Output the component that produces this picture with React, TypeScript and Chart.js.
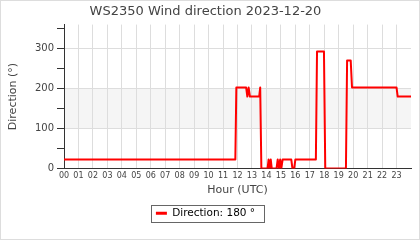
import React, { useEffect, useRef } from "react";
import { Chart, registerables } from "chart.js";

Chart.register(...registerables);

// Time of each reading, in hours (UTC) on 2023-12-20
const hours: number[] = [
  0, 11.85, 11.92, 12.6, 12.68, 12.77, 12.86, 13.5, 13.57, 13.65,
  14.08, 14.15, 14.22, 14.3, 14.37, 14.7, 14.78, 14.87, 14.95, 15.03,
  15.12, 15.72, 15.8, 15.92, 16.0, 17.42, 17.5, 17.98, 18.07, 19.5,
  19.58, 19.83, 19.92, 23.0, 23.08, 24,
];
// Wind direction, degrees
const direction: number[] = [
  22.5, 22.5, 202.5, 202.5, 180, 202.5, 180, 180, 202.5, 0,
  0, 22.5, 0, 22.5, 0, 0, 22.5, 0, 22.5, 0,
  22.5, 22.5, 0, 0, 22.5, 22.5, 292.5, 292.5, 0, 0,
  270, 270, 202.5, 202.5, 180, 180,
];
const hourTicks: number[] = [
  0, 1, 2, 3, 4, 5, 6, 7, 8, 9, 10, 11, 12, 13, 14, 15, 16, 17, 18, 19, 20, 21, 22, 23,
];
const dirTicks: number[] = [0, 50, 100, 150, 200, 250, 300, 350];
const bandRange: number[] = [100, 200];
const titleText = "WS2350 Wind direction 2023-12-20";
const seriesLabel = "Direction: 180 °";

const FONT = "DejaVu Sans";

const framePlugin = {
  id: "frame",
  beforeDraw(chart: any) {
    const { ctx, chartArea, scales } = chart;
    ctx.save();
    ctx.fillStyle = "#ffffff";
    ctx.fillRect(0, 0, chart.width, chart.height);
    const yTop = scales.y.getPixelForValue(bandRange[1]);
    const yBot = scales.y.getPixelForValue(bandRange[0]);
    ctx.fillStyle = "#f5f5f5";
    ctx.fillRect(chartArea.left, yTop, chartArea.right - chartArea.left, yBot - yTop);
    ctx.restore();
  },
  afterDraw(chart: any) {
    const { ctx } = chart;
    ctx.save();
    ctx.strokeStyle = "#dddddd";
    ctx.lineWidth = 1;
    ctx.strokeRect(0.5, 0.5, chart.width - 1, chart.height - 1);
    const boxes = chart.legend && chart.legend.legendHitBoxes;
    if (boxes && boxes.length) {
      const b = boxes[0];
      ctx.strokeStyle = "#666666";
      const l = Math.round(b.left - 5) + 0.5;
      const t = Math.round(b.top - 3.5) + 0.5;
      const r = Math.round(b.left + b.width + 9) + 0.5;
      const bt = Math.round(b.top + b.height + 3.5) + 0.5;
      ctx.strokeRect(l, t, r - l, bt - t);
    }
    ctx.restore();
  },
};

export default function App() {
  const canvasRef = useRef<HTMLCanvasElement | null>(null);

  useEffect(() => {
    const canvas = canvasRef.current;
    if (!canvas) return;
    const chart = new Chart(canvas, {
      type: "line",
      data: {
        datasets: [
          {
            label: seriesLabel,
            data: hours.map((h, i) => ({ x: h, y: direction[i] })),
            borderColor: "#ff0000",
            backgroundColor: "#ff0000",
            borderWidth: 2,
            borderJoinStyle: "round",
            pointRadius: 0,
            tension: 0,
            fill: false,
          },
        ],
      },
      options: {
        responsive: false,
        animation: false,
        events: [],
        layout: { padding: { left: 0, right: 9, top: 0, bottom: 11.5 } },
        plugins: {
          title: {
            display: true,
            text: titleText,
            color: "#444444",
            font: { family: FONT, size: 13, weight: "normal" },
            padding: { top: 4, bottom: 5 },
          },
          legend: {
            display: true,
            position: "bottom",
            labels: {
              color: "#000000",
              font: { family: FONT, size: 10.5 },
              boxWidth: 11,
              boxHeight: 3,
              padding: 10,
              generateLabels: (c: any) =>
                c.data.datasets.map((ds: any, i: number) => ({
                  text: ds.label,
                  fillStyle: ds.borderColor,
                  strokeStyle: ds.borderColor,
                  lineWidth: 0,
                  hidden: false,
                  datasetIndex: i,
                  fontColor: "#000000",
                })),
            },
          },
          tooltip: { enabled: false },
        },
        scales: {
          x: {
            type: "linear",
            min: 0,
            max: 24,
            afterBuildTicks: (axis: any) => {
              axis.ticks = hourTicks.map((v) => ({ value: v }));
            },
            afterFit: (scale: any) => {
              scale.height = 29.5;
            },
            ticks: {
              autoSkip: false,
              maxRotation: 0,
              minRotation: 0,
              padding: 3,
              color: "#444444",
              font: { family: FONT, size: 8 },
              callback: (v: any) => String(v).padStart(2, "0"),
            },
            grid: {
              color: "#dddddd",
              drawTicks: false,
            },
            border: { color: "#333333", width: 1 },
            title: {
              display: true,
              text: "Hour (UTC)",
              color: "#444444",
              font: { family: FONT, size: 11 },
              padding: { top: 2, bottom: 1.5 },
            },
          },
          y: {
            type: "linear",
            min: 0,
            max: 360,
            afterBuildTicks: (axis: any) => {
              axis.ticks = dirTicks.map((v) => ({ value: v }));
            },
            afterFit: (scale: any) => {
              scale.width = 64;
            },
            ticks: {
              padding: 3,
              color: "#444444",
              font: { family: FONT, size: 10 },
              callback: (v: any) => (Number(v) % 100 === 0 ? String(v) : ""),
            },
            grid: {
              color: (ctx: any) =>
                ctx.tick && ctx.tick.value % 100 === 0 && ctx.tick.value !== 0
                  ? "#dddddd"
                  : "rgba(0,0,0,0)",
              tickColor: "#333333",
              tickLength: 7,
              drawTicks: true,
            },
            border: { color: "#333333", width: 1 },
            title: {
              display: true,
              text: "Direction (°)",
              color: "#444444",
              font: { family: FONT, size: 11 },
              padding: { top: 7, bottom: 4 },
            },
          },
        },
      } as any,
      plugins: [framePlugin],
    });
    return () => chart.destroy();
  }, []);

  return (
    <div style={{ position: "fixed", left: 0, top: 0, width: 420, height: 240 }}>
      <canvas ref={canvasRef} width={420} height={240} style={{ display: "block" }} />
    </div>
  );
}
